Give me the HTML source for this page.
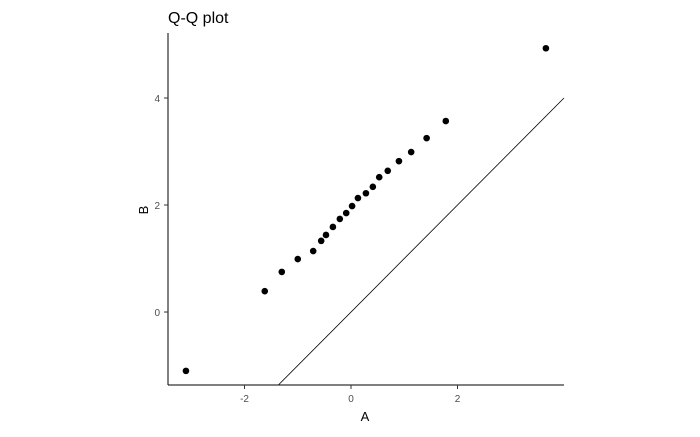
<!DOCTYPE html>
<html><head><meta charset="utf-8"><style>
body{margin:0;background:#fff;}
svg text{font-family:"Liberation Sans",sans-serif;}
</style></head><body>
<svg width="700" height="432" xmlns="http://www.w3.org/2000/svg">
<rect width="700" height="432" fill="#fff"/>
<text x="168" y="23" font-size="16" fill="#000">Q-Q plot</text>
<g id="plot"></g>
<text x="365" y="421" font-size="13" text-anchor="middle">A</text>
<text x="148" y="210" font-size="13" text-anchor="middle" transform="rotate(-90 148 210)">B</text>
</svg>
<script>
const xs = [-3.10,-1.62,-1.30,-1.00,-0.71,-0.56,-0.47,-0.34,-0.21,-0.09,0.02,0.13,0.28,0.41,0.53,0.69,0.90,1.13,1.42,1.78,3.66];
const ys = [-1.10,0.39,0.75,0.99,1.14,1.33,1.44,1.59,1.74,1.85,1.98,2.13,2.22,2.34,2.52,2.64,2.82,2.99,3.25,3.57,4.93];
const xTicks = [-2,0,2];
const yTicks = [0,2,4];
const X0=168,X1=564,Y0=385,Y1=33;
const xMin=-3.437,xMax=4.0,yMin=-1.364,yMax=5.215;
const sx=v=>X0+(v-xMin)/(xMax-xMin)*(X1-X0);
const sy=v=>Y0-(v-yMin)/(yMax-yMin)*(Y0-Y1);
const NS="http://www.w3.org/2000/svg";
const g=document.getElementById('plot');
function mk(t,a){const e=document.createElementNS(NS,t);for(const k in a)e.setAttribute(k,a[k]);g.appendChild(e);return e;}
// reference line y=x clipped
const lo=Math.max(xMin,yMin),hi=Math.min(xMax,yMax);
let ln=mk('line',{x1:sx(lo),y1:sy(lo),x2:sx(hi),y2:sy(hi),stroke:'#000','stroke-width':0.8});


let ax=mk('line',{x1:X0,y1:Y0,x2:X1,y2:Y0,stroke:'#000','stroke-width':1});


let ay=mk('line',{x1:X0,y1:Y0,x2:X0,y2:Y1,stroke:'#000','stroke-width':1});


xTicks.forEach(v=>{
  mk('line',{x1:sx(v),y1:Y0,x2:sx(v),y2:Y0+4,stroke:'#333'});
  const t=mk('text',{x:sx(v),y:Y0+17,'font-size':10,'text-anchor':'middle',fill:'#4d4d4d'});
  t.textContent=v;
  
  
});
yTicks.forEach(v=>{
  mk('line',{x1:X0-4,y1:sy(v),x2:X0,y2:sy(v),stroke:'#333'});
  const t=mk('text',{x:X0-8,y:sy(v)+4,'font-size':10,'text-anchor':'end',fill:'#4d4d4d'});
  t.textContent=v;
  
  
});
xs.forEach((v,i)=>{
  const c=mk('circle',{cx:sx(v),cy:sy(ys[i]),r:3.3,fill:'#000'});
  
  
});
</script>
</body></html>
